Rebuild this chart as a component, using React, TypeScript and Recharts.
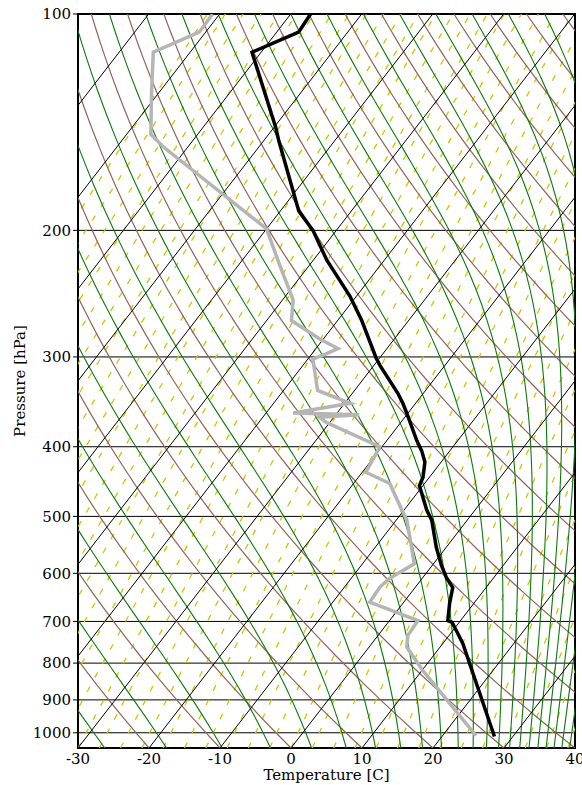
import React from "react";
import { ComposedChart, Line, XAxis, YAxis, CartesianGrid, ReferenceArea } from "recharts";

// Skew-T / log-P sounding diagram

const P_BOTTOM = 1050;
const P_TOP = 100;
const SKEW = 78.3; // degC of shift per decade of pressure
const KAPPA = 0.2857;

const pressureTicks = [100, 200, 300, 400, 500, 600, 700, 800, 900, 1000];
const temperatureTicks = [-30, -20, -10, 0, 10, 20, 30, 40];

// temperature profile (hPa, degC)
const tempPressure = [1012, 751, 702, 698, 661, 628, 608, 585, 552, 506, 490, 453, 441, 420, 405, 392, 359, 348, 337, 308, 301, 267, 247, 220, 200, 188, 150, 144, 113, 106, 100];
const tempValues = [27.4, 12.8, 9.0, 8.2, 6.6, 5.3, 3.3, 1.3, -1.4, -5.0, -6.8, -10.5, -10.9, -12.3, -14.0, -15.8, -20.2, -21.8, -23.6, -29.2, -30.5, -36.6, -40.9, -48.1, -53.3, -57.4, -67.9, -69.7, -81.3, -76.9, -77.2];

// dewpoint profile (hPa, degC)
const dewPressure = [1009, 819, 760, 732, 698, 658, 627, 610, 582, 506, 490, 450, 434, 400, 370, 364, 361, 359, 348, 334, 302, 297, 292, 283, 267, 250, 220, 199, 153, 147, 128, 113, 106, 100];
const dewValues = [24.7, 10.1, 5.3, 4.2, 4.0, -4.8, -5.0, -4.6, -2.7, -8.5, -10.3, -14.9, -19.5, -20.3, -30.5, -32.0, -26.7, -36.2, -29.2, -35.2, -39.3, -38.0, -36.9, -40.6, -46.5, -48.5, -55.0, -60.0, -83.5, -86.6, -91.2, -95.2, -90.9, -91.0];

// reference line families
const range = (a: number, b: number, step: number) => {
  const out: number[] = [];
  for (let v = a; v <= b + 1e-9; v += step) out.push(v);
  return out;
};
const isotherms = range(-120, 40, 10);
const dryAdiabats = range(-40, 190, 10); // temperature at 1050 hPa
const moistAdiabats = range(-45, 195, 10); // dry-equivalent temperature at 1050 hPa
const mixingLines = range(-78, 44, 3); // dewpoint at 1050 hPa

const skewX = (t: number, p: number) => t + SKEW * Math.log10(P_BOTTOM / p);

const levels: number[] = [];
for (let i = 0; i <= 48; i++) levels.push(P_BOTTOM * Math.pow(P_TOP / P_BOTTOM, i / 48));

const es = (tc: number) => 6.112 * Math.exp((17.67 * tc) / (tc + 243.5));

function moistSlope(tk: number, lnp: number) {
  const p = Math.exp(lnp);
  const e = es(tk - 273.15);
  const rs = (0.622 * e) / (p - e);
  const lv = 2.501e6;
  return (287.04 * tk + lv * rs) / (1005.7 + (lv * lv * rs * 0.622) / (287.04 * tk * tk));
}

function moistLine(t0: number) {
  const pts: { x: number; p: number }[] = [];
  const n = 480;
  let lnp = Math.log(P_TOP);
  const h = (Math.log(P_BOTTOM) - lnp) / n;
  let T = (t0 + 273.15) * Math.pow(P_TOP / P_BOTTOM, KAPPA);
  for (let i = 0; i <= n; i++) {
    const p = Math.exp(lnp);
    if (i % 10 === 0 || T > 335) pts.push({ x: skewX(T - 273.15, p), p });
    if (T > 335) break;
    const k1 = moistSlope(T, lnp);
    const k2 = moistSlope(T + (h * k1) / 2, lnp + h / 2);
    const k3 = moistSlope(T + (h * k2) / 2, lnp + h / 2);
    const k4 = moistSlope(T + h * k3, lnp + h);
    T += (h * (k1 + 2 * k2 + 2 * k3 + k4)) / 6;
    lnp += h;
  }
  return pts;
}

function mixingLine(td0: number) {
  const e0 = es(td0);
  const w = (0.622 * e0) / (P_BOTTOM - e0);
  return levels.filter((_, i) => i % 4 === 0).map((p) => {
    const l = Math.log(((w * p) / (0.622 + w)) / 6.112);
    return { x: skewX((243.5 * l) / (17.67 - l), p), p };
  });
}

const isoData = isotherms.map((t) => [P_BOTTOM, P_TOP].map((p) => ({ x: skewX(t, p), p })));
const dryData = dryAdiabats.map((t0) =>
  levels.map((p) => ({ x: skewX((t0 + 273.15) * Math.pow(p / P_BOTTOM, KAPPA) - 273.15, p), p }))
);
const moistData = moistAdiabats.map(moistLine);
const mixData = mixingLines.map(mixingLine);

const tempData = tempPressure.map((p, i) => ({ x: skewX(tempValues[i], p), p }));
const dewData = dewPressure.map((p, i) => ({ x: skewX(dewValues[i], p), p }));

const FONT = "'DejaVu Serif', serif";

const guide = (key: string, data: { x: number; p: number }[], stroke: string, extra: Record<string, unknown> = {}) => (
  <Line
    key={key}
    data={data}
    dataKey="p"
    type="linear"
    stroke={stroke}
    strokeWidth={1}
    dot={false}
    activeDot={false}
    isAnimationActive={false}
    legendType="none"
    {...extra}
  />
);

export default function App() {
  return (
    <div style={{ position: "absolute", left: 0, top: 0, background: "#fff" }}>
      <ComposedChart width={582} height={785} margin={{ top: 14, right: 7, left: 0, bottom: 0 }}>
        <CartesianGrid vertical={false} stroke="#000" strokeWidth={1} />
        <XAxis
          type="number"
          dataKey="x"
          domain={[-30, 40]}
          ticks={temperatureTicks}
          interval={0}
          allowDataOverflow
          height={37}
          tickLine={false}
          tickSize={0}
          axisLine={false}
          tickMargin={5}
          tick={{ fontFamily: FONT, fontSize: 15, fill: "#000" }}
          label={{ value: "Temperature [C]", position: "insideBottom", offset: 5, fontFamily: FONT, fontSize: 15, fill: "#000" }}
        />
        <YAxis
          type="number"
          scale="log"
          domain={[100, 1050]}
          reversed
          allowDataOverflow
          ticks={pressureTicks}
          interval={0}
          width={78}
          tickSize={5}
          tickMargin={2}
          axisLine={false}
          tickLine={{ stroke: "#000" }}
          tick={{ fontFamily: FONT, fontSize: 15, fill: "#000" }}
          label={{ value: "Pressure [hPa]", angle: -90, position: "insideLeft", offset: 20, fontFamily: FONT, fontSize: 15, fill: "#000", style: { textAnchor: "middle" } }}
        />
        {mixData.map((d, i) => guide(`w${i}`, d, "#c8c800", { strokeDasharray: "6 10", strokeWidth: 1.3 }))}
        {dryData.map((d, i) => guide(`d${i}`, d, "#93625a", { strokeWidth: 1.2 }))}
        {moistData.map((d, i) => guide(`m${i}`, d, "#0b7a0b", { strokeWidth: 1.1 }))}
        {isoData.map((d, i) => guide(`t${i}`, d, "#000"))}
        <Line data={dewData} dataKey="p" type="linear" stroke="#b5b5b5" strokeWidth={3.5} dot={false} activeDot={false} isAnimationActive={false} />
        <Line data={tempData} dataKey="p" type="linear" stroke="#000" strokeWidth={3.5} dot={false} activeDot={false} isAnimationActive={false} />
        <ReferenceArea x1={-30} x2={40} y1={100} y2={1050} fill="none" stroke="#000" strokeWidth={2} ifOverflow="visible" />
      </ComposedChart>
    </div>
  );
}
